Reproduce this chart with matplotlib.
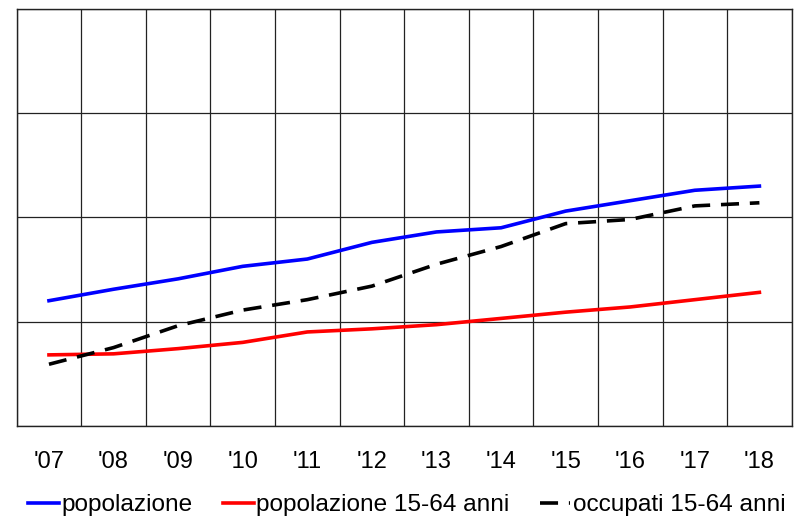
import matplotlib
matplotlib.use('Agg')
import matplotlib.pyplot as plt
import numpy as np

# Anni (etichette asse x)
years = ["'07", "'08", "'09", "'10", "'11", "'12", "'13", "'14", "'15", "'16", "'17", "'18"]

# Valori (unita' = intervalli della griglia orizzontale)
popolazione = [1.20, 1.31, 1.41, 1.53, 1.60, 1.76, 1.86, 1.90, 2.06, 2.16, 2.26, 2.30]
popolazione_15_64 = [0.68, 0.69, 0.74, 0.80, 0.90, 0.93, 0.97, 1.03, 1.09, 1.14, 1.21, 1.28]
occupati_15_64 = [0.59, 0.75, 0.96, 1.11, 1.21, 1.34, 1.55, 1.72, 1.94, 1.98, 2.11, 2.14]

plt.rcParams['font.family'] = ['Liberation Sans', 'DejaVu Sans']

fig = plt.figure(figsize=(7.98, 5.20), dpi=100)
ax = fig.add_axes([0.0209, 0.1813, 0.9712, 0.8014])

x = np.arange(len(years))
ax.plot(x, popolazione, color='#0000ff', lw=2.6, label='popolazione')
ax.plot(x, popolazione_15_64, color='#ff0000', lw=2.6, label='popolazione 15-64 anni')
ax.plot(x, occupati_15_64, color='black', lw=2.6, dashes=(5, 3), label='occupati 15-64 anni')

ax.set_xlim(-0.5, len(years) - 0.5)
ax.set_ylim(0, 4)
ax.set_xticks(x)
ax.set_xticklabels(years, fontsize=17)
ax.set_xticks(np.arange(-0.5, len(years)), minor=True)
ax.set_yticks([0, 1, 2, 3, 4])
ax.set_yticklabels([])
ax.tick_params(axis='x', which='major', length=0, pad=18)
ax.tick_params(axis='x', which='minor', length=0)
ax.tick_params(axis='y', length=0)
ax.grid(True, which='minor', axis='x', color='#222222', lw=0.9)
ax.grid(True, which='major', axis='y', color='#222222', lw=0.9)
for s in ax.spines.values():
    s.set_color('#222222')
    s.set_linewidth(1.0)

fig.legend(loc='center', bbox_to_anchor=(0.51, 0.028), ncol=3, frameon=False,
           fontsize=17.6, handlelength=1.25, handletextpad=0.1, columnspacing=1.25)

fig.savefig('out.png', dpi=100)
plt.close(fig)
